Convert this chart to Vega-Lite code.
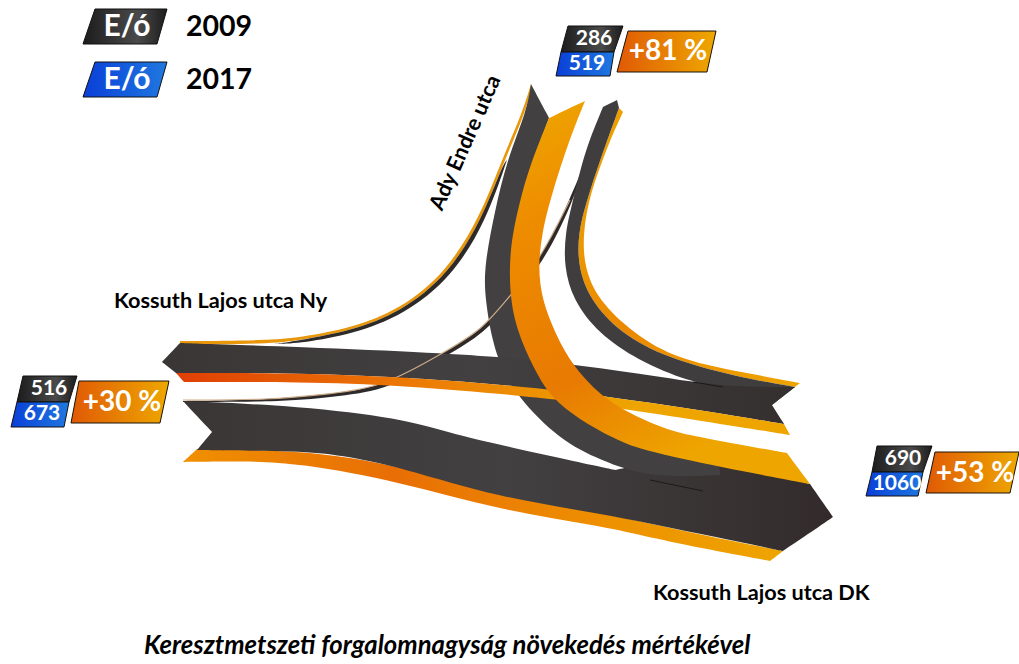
{"$schema":"https://vega.github.io/schema/vega-lite/v6.json","width":1019,"height":664,"padding":0,"autosize":{"type":"none"},"background":"white","config":{"view":{"stroke":null},"text":{"font":"Lato"}},
"datasets":{"shapes":[
{"s":"s2B","x":183,"y":401},{"s":"s2B","x":183,"y":401},{"s":"s2B","x":183,"y":401},{"s":"s2B","x":267,"y":400},{"s":"s2B","x":330,"y":394},{"s":"s2B","x":383,"y":387},{"s":"s2B","x":443,"y":353},{"s":"s2B","x":482,"y":330},{"s":"s2B","x":508,"y":298},{"s":"s2B","x":540,"y":260},{"s":"s2B","x":570,"y":200},{"s":"s2B","x":590,"y":150},{"s":"s2B","x":590,"y":150},{"s":"s2B","x":590,"y":150},{"s":"s2B","x":572,"y":205},{"s":"s2B","x":543,"y":263},{"s":"s2B","x":511,"y":301},{"s":"s2B","x":485,"y":333},{"s":"s2B","x":446,"y":356},{"s":"s2B","x":388,"y":390},{"s":"s2B","x":340,"y":396},{"s":"s2B","x":285,"y":402},{"s":"s2B","x":183,"y":402},{"s":"s2B","x":183,"y":402},{"s":"s2B","x":183,"y":402},
{"s":"lowO","x":183,"y":462},{"s":"lowO","x":183,"y":462},{"s":"lowO","x":183,"y":462},{"s":"lowO","x":197,"y":449},{"s":"lowO","x":197,"y":449},{"s":"lowO","x":197,"y":449},{"s":"lowO","x":300,"y":450},{"s":"lowO","x":400,"y":465},{"s":"lowO","x":500,"y":497},{"s":"lowO","x":600,"y":512},{"s":"lowO","x":700,"y":535},{"s":"lowO","x":783,"y":551},{"s":"lowO","x":783,"y":551},{"s":"lowO","x":783,"y":551},{"s":"lowO","x":770,"y":561},{"s":"lowO","x":770,"y":561},{"s":"lowO","x":770,"y":561},{"s":"lowO","x":700,"y":548},{"s":"lowO","x":640,"y":535},{"s":"lowO","x":600,"y":526},{"s":"lowO","x":500,"y":510},{"s":"lowO","x":400,"y":482},{"s":"lowO","x":300,"y":463},{"s":"lowO","x":240,"y":461},{"s":"lowO","x":183,"y":462},{"s":"lowO","x":183,"y":462},{"s":"lowO","x":183,"y":462},
{"s":"lowB","x":183,"y":401},{"s":"lowB","x":183,"y":401},{"s":"lowB","x":183,"y":401},{"s":"lowB","x":212,"y":432},{"s":"lowB","x":212,"y":432},{"s":"lowB","x":212,"y":432},{"s":"lowB","x":197,"y":450},{"s":"lowB","x":197,"y":450},{"s":"lowB","x":197,"y":450},{"s":"lowB","x":300,"y":451},{"s":"lowB","x":340,"y":455},{"s":"lowB","x":400,"y":467},{"s":"lowB","x":500,"y":498},{"s":"lowB","x":600,"y":513},{"s":"lowB","x":700,"y":534},{"s":"lowB","x":783,"y":551},{"s":"lowB","x":783,"y":551},{"s":"lowB","x":783,"y":551},{"s":"lowB","x":833,"y":517},{"s":"lowB","x":833,"y":517},{"s":"lowB","x":833,"y":517},{"s":"lowB","x":810,"y":484},{"s":"lowB","x":810,"y":484},{"s":"lowB","x":810,"y":484},{"s":"lowB","x":700,"y":452},{"s":"lowB","x":700,"y":452},{"s":"lowB","x":700,"y":452},{"s":"lowB","x":615,"y":470},{"s":"lowB","x":615,"y":470},{"s":"lowB","x":615,"y":470},{"s":"lowB","x":500,"y":445},{"s":"lowB","x":450,"y":433},{"s":"lowB","x":400,"y":418},{"s":"lowB","x":300,"y":406},{"s":"lowB","x":183,"y":401},{"s":"lowB","x":183,"y":401},{"s":"lowB","x":183,"y":401},
{"s":"s1O","x":180,"y":341},{"s":"s1O","x":180,"y":341},{"s":"s1O","x":180,"y":341},{"s":"s1O","x":267,"y":340.5},{"s":"s1O","x":300,"y":337.5},{"s":"s1O","x":350,"y":328.5},{"s":"s1O","x":400,"y":309.5},{"s":"s1O","x":446,"y":272.5},{"s":"s1O","x":480,"y":217},{"s":"s1O","x":501,"y":162},{"s":"s1O","x":523,"y":111},{"s":"s1O","x":531,"y":84},{"s":"s1O","x":531,"y":84},{"s":"s1O","x":531,"y":84},{"s":"s1O","x":531,"y":90},{"s":"s1O","x":531,"y":90},{"s":"s1O","x":531,"y":90},{"s":"s1O","x":525,"y":113},{"s":"s1O","x":503,"y":164},{"s":"s1O","x":482,"y":219},{"s":"s1O","x":448,"y":275},{"s":"s1O","x":401,"y":312},{"s":"s1O","x":351,"y":331},{"s":"s1O","x":301,"y":340},{"s":"s1O","x":267,"y":344},{"s":"s1O","x":180,"y":345},{"s":"s1O","x":180,"y":345},{"s":"s1O","x":180,"y":345},
{"s":"s1B","x":275,"y":344},{"s":"s1B","x":275,"y":344},{"s":"s1B","x":275,"y":344},{"s":"s1B","x":301,"y":340},{"s":"s1B","x":351,"y":331},{"s":"s1B","x":401,"y":312},{"s":"s1B","x":448,"y":275},{"s":"s1B","x":482,"y":219},{"s":"s1B","x":503,"y":164},{"s":"s1B","x":507,"y":160},{"s":"s1B","x":507,"y":160},{"s":"s1B","x":507,"y":160},{"s":"s1B","x":486,"y":221},{"s":"s1B","x":452,"y":277},{"s":"s1B","x":404,"y":315},{"s":"s1B","x":353,"y":334},{"s":"s1B","x":303,"y":343},{"s":"s1B","x":275,"y":344},{"s":"s1B","x":275,"y":344},{"s":"s1B","x":275,"y":344},
{"s":"bigB","x":531,"y":84},{"s":"bigB","x":531,"y":84},{"s":"bigB","x":531,"y":84},{"s":"bigB","x":549,"y":118},{"s":"bigB","x":549,"y":118},{"s":"bigB","x":549,"y":118},{"s":"bigB","x":530,"y":170},{"s":"bigB","x":512,"y":230},{"s":"bigB","x":512,"y":290},{"s":"bigB","x":530,"y":350},{"s":"bigB","x":580,"y":410},{"s":"bigB","x":650,"y":442},{"s":"bigB","x":720,"y":458},{"s":"bigB","x":720,"y":475},{"s":"bigB","x":720,"y":475},{"s":"bigB","x":720,"y":475},{"s":"bigB","x":650,"y":478},{"s":"bigB","x":600,"y":460},{"s":"bigB","x":560,"y":440},{"s":"bigB","x":517,"y":397},{"s":"bigB","x":495,"y":357},{"s":"bigB","x":485,"y":300},{"s":"bigB","x":484,"y":267},{"s":"bigB","x":495,"y":210},{"s":"bigB","x":507,"y":160},{"s":"bigB","x":527,"y":110},{"s":"bigB","x":531,"y":84},{"s":"bigB","x":531,"y":84},{"s":"bigB","x":531,"y":84},
{"s":"rightO","x":623,"y":112},{"s":"rightO","x":623,"y":112},{"s":"rightO","x":623,"y":112},{"s":"rightO","x":610,"y":140},{"s":"rightO","x":597,"y":175},{"s":"rightO","x":589,"y":200},{"s":"rightO","x":583,"y":233},{"s":"rightO","x":584,"y":267},{"s":"rightO","x":598,"y":300},{"s":"rightO","x":633,"y":333},{"s":"rightO","x":677,"y":360},{"s":"rightO","x":757,"y":375},{"s":"rightO","x":800,"y":383},{"s":"rightO","x":800,"y":383},{"s":"rightO","x":800,"y":383},{"s":"rightO","x":795,"y":387},{"s":"rightO","x":795,"y":387},{"s":"rightO","x":795,"y":387},{"s":"rightO","x":737,"y":377},{"s":"rightO","x":667,"y":358},{"s":"rightO","x":620,"y":333},{"s":"rightO","x":590,"y":300},{"s":"rightO","x":578,"y":267},{"s":"rightO","x":578,"y":233},{"s":"rightO","x":587,"y":200},{"s":"rightO","x":600,"y":160},{"s":"rightO","x":619,"y":108},{"s":"rightO","x":619,"y":108},{"s":"rightO","x":619,"y":108},{"s":"rightO","x":623,"y":112},{"s":"rightO","x":623,"y":112},{"s":"rightO","x":623,"y":112},
{"s":"rightB","x":603,"y":107},{"s":"rightB","x":603,"y":107},{"s":"rightB","x":603,"y":107},{"s":"rightB","x":617,"y":100},{"s":"rightB","x":617,"y":100},{"s":"rightB","x":617,"y":100},{"s":"rightB","x":619,"y":108},{"s":"rightB","x":619,"y":108},{"s":"rightB","x":619,"y":108},{"s":"rightB","x":600,"y":160},{"s":"rightB","x":587,"y":200},{"s":"rightB","x":578,"y":233},{"s":"rightB","x":578,"y":267},{"s":"rightB","x":590,"y":300},{"s":"rightB","x":620,"y":333},{"s":"rightB","x":667,"y":358},{"s":"rightB","x":737,"y":377},{"s":"rightB","x":795,"y":387},{"s":"rightB","x":795,"y":387},{"s":"rightB","x":795,"y":387},{"s":"rightB","x":772,"y":405},{"s":"rightB","x":772,"y":405},{"s":"rightB","x":772,"y":405},{"s":"rightB","x":723,"y":387},{"s":"rightB","x":723,"y":387},{"s":"rightB","x":723,"y":387},{"s":"rightB","x":690,"y":382},{"s":"rightB","x":637,"y":360},{"s":"rightB","x":598,"y":333},{"s":"rightB","x":573,"y":300},{"s":"rightB","x":564,"y":267},{"s":"rightB","x":565,"y":233},{"s":"rightB","x":573,"y":200},{"s":"rightB","x":585,"y":150},{"s":"rightB","x":603,"y":107},{"s":"rightB","x":603,"y":107},{"s":"rightB","x":603,"y":107},
{"s":"nyB","x":162,"y":362},{"s":"nyB","x":162,"y":362},{"s":"nyB","x":162,"y":362},{"s":"nyB","x":180,"y":343},{"s":"nyB","x":180,"y":343},{"s":"nyB","x":180,"y":343},{"s":"nyB","x":300,"y":347},{"s":"nyB","x":440,"y":353},{"s":"nyB","x":500,"y":357},{"s":"nyB","x":563,"y":363},{"s":"nyB","x":637,"y":373},{"s":"nyB","x":723,"y":387},{"s":"nyB","x":795,"y":387},{"s":"nyB","x":795,"y":387},{"s":"nyB","x":795,"y":387},{"s":"nyB","x":772,"y":405},{"s":"nyB","x":772,"y":405},{"s":"nyB","x":772,"y":405},{"s":"nyB","x":784,"y":424},{"s":"nyB","x":784,"y":424},{"s":"nyB","x":784,"y":424},{"s":"nyB","x":700,"y":410},{"s":"nyB","x":603,"y":396},{"s":"nyB","x":537,"y":388},{"s":"nyB","x":470,"y":382},{"s":"nyB","x":400,"y":377},{"s":"nyB","x":300,"y":373},{"s":"nyB","x":176,"y":373},{"s":"nyB","x":176,"y":373},{"s":"nyB","x":176,"y":373},{"s":"nyB","x":162,"y":362},{"s":"nyB","x":162,"y":362},{"s":"nyB","x":162,"y":362},
{"s":"nyO","x":176,"y":373},{"s":"nyO","x":176,"y":373},{"s":"nyO","x":176,"y":373},{"s":"nyO","x":184,"y":382},{"s":"nyO","x":184,"y":382},{"s":"nyO","x":184,"y":382},{"s":"nyO","x":300,"y":382},{"s":"nyO","x":400,"y":385},{"s":"nyO","x":550,"y":398},{"s":"nyO","x":617,"y":408},{"s":"nyO","x":703,"y":421},{"s":"nyO","x":790,"y":435},{"s":"nyO","x":790,"y":435},{"s":"nyO","x":790,"y":435},{"s":"nyO","x":784,"y":424},{"s":"nyO","x":784,"y":424},{"s":"nyO","x":784,"y":424},{"s":"nyO","x":700,"y":410},{"s":"nyO","x":603,"y":396},{"s":"nyO","x":537,"y":388},{"s":"nyO","x":470,"y":382},{"s":"nyO","x":400,"y":377},{"s":"nyO","x":300,"y":373},{"s":"nyO","x":176,"y":373},{"s":"nyO","x":176,"y":373},{"s":"nyO","x":176,"y":373},
{"s":"bigO","x":585,"y":101},{"s":"bigO","x":585,"y":101},{"s":"bigO","x":585,"y":101},{"s":"bigO","x":549,"y":118},{"s":"bigO","x":549,"y":118},{"s":"bigO","x":549,"y":118},{"s":"bigO","x":530,"y":165},{"s":"bigO","x":520,"y":200},{"s":"bigO","x":509,"y":250},{"s":"bigO","x":510,"y":300},{"s":"bigO","x":518,"y":333},{"s":"bigO","x":533,"y":367},{"s":"bigO","x":550,"y":397},{"s":"bigO","x":580,"y":420},{"s":"bigO","x":613,"y":438},{"s":"bigO","x":640,"y":450},{"s":"bigO","x":720,"y":467},{"s":"bigO","x":810,"y":484},{"s":"bigO","x":810,"y":484},{"s":"bigO","x":810,"y":484},{"s":"bigO","x":787,"y":453},{"s":"bigO","x":787,"y":453},{"s":"bigO","x":787,"y":453},{"s":"bigO","x":703,"y":438},{"s":"bigO","x":667,"y":430},{"s":"bigO","x":637,"y":417},{"s":"bigO","x":605,"y":400},{"s":"bigO","x":573,"y":367},{"s":"bigO","x":555,"y":333},{"s":"bigO","x":542,"y":300},{"s":"bigO","x":538,"y":267},{"s":"bigO","x":542,"y":233},{"s":"bigO","x":550,"y":200},{"s":"bigO","x":568,"y":143},{"s":"bigO","x":585,"y":101},{"s":"bigO","x":585,"y":101},{"s":"bigO","x":585,"y":101}
],
"lines":[
{"s":"tan","x":183,"y":400},{"s":"tan","x":267,"y":400},{"s":"tan","x":330,"y":394},{"s":"tan","x":383,"y":387},{"s":"tan","x":443,"y":353},{"s":"tan","x":482,"y":330},{"s":"tan","x":508,"y":298},{"s":"tan","x":540,"y":260},{"s":"tan","x":570,"y":200},
{"s":"slit1","x":650,"y":480},{"s":"slit1","x":703,"y":491},
{"s":"slit2","x":693,"y":382},{"s":"slit2","x":723,"y":387}
],
"boxes":[
{"s":"k0","x":95,"y":9},{"s":"k0","x":167,"y":9},{"s":"k0","x":157,"y":44},{"s":"k0","x":83,"y":44},{"s":"k0","x":95,"y":9},
{"s":"k1","x":568,"y":26},{"s":"k1","x":623,"y":26},{"s":"k1","x":614,"y":52},{"s":"k1","x":561,"y":52},{"s":"k1","x":568,"y":26},
{"s":"k2","x":23,"y":376},{"s":"k2","x":77,"y":376},{"s":"k2","x":69,"y":402},{"s":"k2","x":17,"y":402},{"s":"k2","x":23,"y":376},
{"s":"k3","x":877,"y":446},{"s":"k3","x":932,"y":446},{"s":"k3","x":923,"y":472},{"s":"k3","x":872,"y":472},{"s":"k3","x":877,"y":446},
{"s":"b0","x":95,"y":62},{"s":"b0","x":167,"y":62},{"s":"b0","x":157,"y":97},{"s":"b0","x":83,"y":97},{"s":"b0","x":95,"y":62},
{"s":"b1","x":561,"y":52},{"s":"b1","x":614,"y":52},{"s":"b1","x":610,"y":76},{"s":"b1","x":556,"y":76},{"s":"b1","x":561,"y":52},
{"s":"b2","x":17,"y":402},{"s":"b2","x":69,"y":402},{"s":"b2","x":64,"y":427},{"s":"b2","x":11,"y":427},{"s":"b2","x":17,"y":402},
{"s":"b3","x":872,"y":472},{"s":"b3","x":923,"y":472},{"s":"b3","x":918,"y":496},{"s":"b3","x":866,"y":496},{"s":"b3","x":872,"y":472},
{"s":"p1","x":628,"y":31},{"s":"p1","x":716,"y":31},{"s":"p1","x":707,"y":72},{"s":"p1","x":617,"y":72},{"s":"p1","x":628,"y":31},
{"s":"p2","x":79,"y":381},{"s":"p2","x":169,"y":381},{"s":"p2","x":160,"y":423},{"s":"p2","x":71,"y":423},{"s":"p2","x":79,"y":381},
{"s":"p3","x":935,"y":452},{"s":"p3","x":1019,"y":452},{"s":"p3","x":1010,"y":493},{"s":"p3","x":926,"y":493},{"s":"p3","x":935,"y":452}
]},
"encoding":{"x":{"field":"x","type":"quantitative","axis":null,"scale":{"domain":[0,1019],"nice":false,"zero":false}},"y":{"field":"y","type":"quantitative","axis":null,"scale":{"domain":[0,664],"reverse":true,"nice":false,"zero":false}},"order":{"field":"i","type":"quantitative"}},
"layer":[
{"layer":[
{"transform":[{"filter":"datum.s=='s2B'"}],"mark":{"type":"line","interpolate":"basis","strokeWidth":0,"fill":"#2e2a2a"}},
{"transform":[{"filter":"datum.s=='lowO'"}],"mark":{"type":"line","interpolate":"basis","strokeWidth":0,"fill":{"gradient":"linear","x1":0,"y1":0,"x2":1,"y2":0,"stops":[{"offset":0,"color":"#f09000"},{"offset":0.35,"color":"#e86e05"},{"offset":0.7,"color":"#ee9000"},{"offset":1,"color":"#eea500"}]}}},
{"transform":[{"filter":"datum.s=='lowB'"}],"mark":{"type":"line","interpolate":"basis","strokeWidth":0,"fill":{"gradient":"linear","x1":0,"y1":0,"x2":1,"y2":0,"stops":[{"offset":0,"color":"#3a3636"},{"offset":0.5,"color":"#424041"},{"offset":1,"color":"#332b2b"}]}}},
{"transform":[{"filter":"datum.s=='s1O'"}],"mark":{"type":"line","interpolate":"basis","strokeWidth":0,"fill":"#e8960a"}},
{"transform":[{"filter":"datum.s=='s1B'"}],"mark":{"type":"line","interpolate":"basis","strokeWidth":0,"fill":"#2e2a2a"}},
{"transform":[{"filter":"datum.s=='bigB'"}],"mark":{"type":"line","interpolate":"basis","strokeWidth":0,"fill":"#424041"}},
{"transform":[{"filter":"datum.s=='rightO'"}],"mark":{"type":"line","interpolate":"basis","strokeWidth":0,"fill":{"gradient":"linear","x1":0,"y1":0,"x2":1,"y2":1,"stops":[{"offset":0,"color":"#eea500"},{"offset":0.5,"color":"#ea8800"},{"offset":1,"color":"#eea500"}]}}},
{"transform":[{"filter":"datum.s=='rightB'"}],"mark":{"type":"line","interpolate":"basis","strokeWidth":0,"fill":"#403d3e"}},
{"transform":[{"filter":"datum.s=='nyB'"}],"mark":{"type":"line","interpolate":"basis","strokeWidth":0,"fill":{"gradient":"linear","x1":0,"y1":0,"x2":1,"y2":0,"stops":[{"offset":0,"color":"#3a3636"},{"offset":0.5,"color":"#424041"},{"offset":1,"color":"#352f2f"}]}}}
],"data":{"name":"shapes"},"transform":[{"window":[{"op":"row_number","as":"i"}]}]},
{"data":{"name":"lines"},"transform":[{"window":[{"op":"row_number","as":"i"}]},{"filter":"datum.s=='tan'"}],"mark":{"type":"line","interpolate":"basis","strokeWidth":1.2,"stroke":"#cdaa88"}},
{"layer":[
{"transform":[{"filter":"datum.s=='nyO'"}],"mark":{"type":"line","interpolate":"basis","strokeWidth":0,"fill":{"gradient":"linear","x1":0,"y1":0,"x2":1,"y2":0,"stops":[{"offset":0,"color":"#e03f05"},{"offset":0.4,"color":"#ec7c05"},{"offset":0.75,"color":"#eea500"},{"offset":1,"color":"#eea500"}]}}},
{"transform":[{"filter":"datum.s=='bigO'"}],"mark":{"type":"line","interpolate":"basis","strokeWidth":0,"fill":{"gradient":"linear","x1":0,"y1":0,"x2":0.4,"y2":1,"stops":[{"offset":0,"color":"#eea800"},{"offset":0.3,"color":"#ee8c00"},{"offset":0.7,"color":"#e87a02"},{"offset":1,"color":"#eea500"}]}}}
],"data":{"name":"shapes"},"transform":[{"window":[{"op":"row_number","as":"i"}]}]},
{"data":{"name":"lines"},"transform":[{"window":[{"op":"row_number","as":"i"}]},{"filter":"datum.s!='tan'"}],"mark":{"type":"line","strokeWidth":1,"stroke":"#1a1a1a"},"encoding":{"detail":{"field":"s"}}},
{"layer":[
{"transform":[{"filter":"datum.s[0]=='k'"}],"mark":{"type":"line","stroke":"#111","strokeWidth":1,"fill":{"gradient":"linear","x1":0,"y1":0,"x2":1,"y2":0,"stops":[{"offset":0,"color":"#1c1c1c"},{"offset":0.65,"color":"#4a4a4a"},{"offset":1,"color":"#1c1c1c"}]}},"encoding":{"detail":{"field":"s"}}},
{"transform":[{"filter":"datum.s[0]=='b'"}],"mark":{"type":"line","stroke":"#111","strokeWidth":1,"fill":{"gradient":"linear","x1":0,"y1":0,"x2":1,"y2":0,"stops":[{"offset":0,"color":"#0a3fd8"},{"offset":1,"color":"#1f78e0"}]}},"encoding":{"detail":{"field":"s"}}},
{"transform":[{"filter":"datum.s[0]=='p'"}],"mark":{"type":"line","stroke":"#1a1208","strokeWidth":1,"fill":{"gradient":"linear","x1":0,"y1":0,"x2":1,"y2":0,"stops":[{"offset":0,"color":"#e05a05"},{"offset":1,"color":"#eea800"}]}},"encoding":{"detail":{"field":"s"}}}
],"data":{"name":"boxes"},"transform":[{"window":[{"op":"row_number","as":"i"}]}]},
{"data":{"values":[{"t":"E/ó","x":127,"y":27},{"t":"E/ó","x":127,"y":80}]},"mark":{"type":"text","font":"Lato","fontWeight":"bold","fontSize":30,"fill":"#ffffff"},"encoding":{"text":{"field":"t"},"order":null}},
{"data":{"values":[{"t":"2009","x":219,"y":27},{"t":"2017","x":219,"y":80}]},"mark":{"type":"text","font":"Lato","fontWeight":"bold","fontSize":28.5,"fill":"#000000"},"encoding":{"text":{"field":"t"},"order":null}},
{"data":{"values":[{"t":"286","x":594,"y":39},{"t":"519","x":587,"y":64},{"t":"516","x":49,"y":389},{"t":"673","x":42,"y":414},{"t":"690","x":903,"y":459},{"t":"1060","x":897,"y":484}]},"mark":{"type":"text","font":"Lato","fontWeight":"bold","fontSize":21,"fill":"#ffffff"},"encoding":{"text":{"field":"t"},"order":null}},
{"data":{"values":[{"t":"+81 %","x":668,"y":52},{"t":"+30 %","x":122,"y":403},{"t":"+53 %","x":975,"y":474}]},"mark":{"type":"text","font":"Lato","fontSize":28,"fontWeight":"bold","fill":"#ffffff"},"encoding":{"text":{"field":"t"},"order":null}},
{"data":{"values":[{"t":"Kossuth Lajos utca Ny","x":114,"y":301},{"t":"Kossuth Lajos utca DK","x":653,"y":593}]},"mark":{"type":"text","font":"Lato","fontWeight":"bold","fontSize":21.7,"align":"left","fill":"#000000"},"encoding":{"text":{"field":"t"},"order":null}},
{"data":{"values":[{"t":"Ady Endre utca","x":466,"y":143}]},"mark":{"type":"text","font":"Lato","fontWeight":"bold","fontSize":21.5,"angle":294,"fill":"#000000"},"encoding":{"text":{"field":"t"},"order":null}},
{"data":{"values":[{"t":"Keresztmetszeti forgalomnagyság növekedés mértékével","x":144,"y":646}]},"mark":{"type":"text","font":"Lato","fontWeight":"bold","fontStyle":"italic","fontSize":25.7,"align":"left","fill":"#000000"},"encoding":{"text":{"field":"t"},"order":null}}
]}
